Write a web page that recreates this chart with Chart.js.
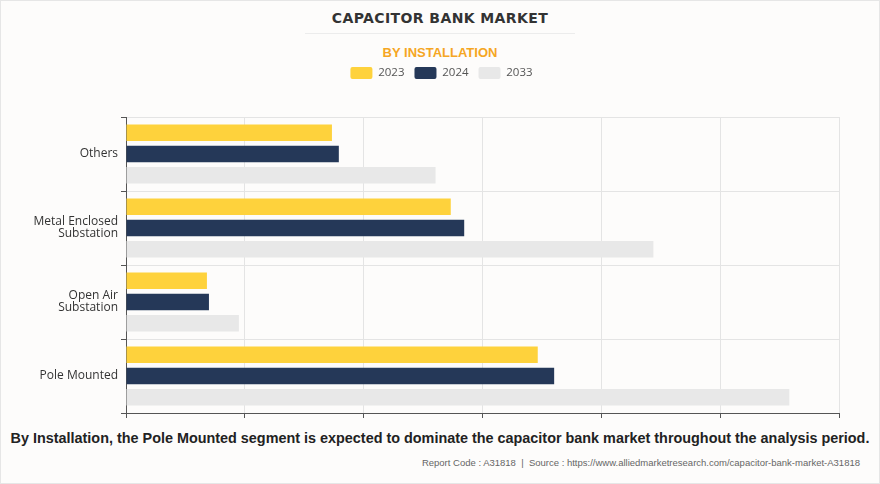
<!DOCTYPE html>
<html>
<head>
<meta charset="utf-8">
<script src="https://cdn.jsdelivr.net/npm/chart.js@4"></script>
<style>
  html, body { margin: 0; padding: 0; }
  body { width: 880px; height: 484px; background: #fdfcfb; position: relative; overflow: hidden; font-family: "Liberation Sans", Arial, sans-serif; }
  #frame { position: absolute; left: 0; top: 0; width: 878px; height: 482px; border: 1px solid #e6e6e6; }
  #title { position: absolute; top: 10px; left: 0; width: 880px; text-align: center; font: bold 14px "DejaVu Sans", sans-serif; letter-spacing: 0.4px; color: #333; }
  #rule { position: absolute; top: 33px; left: 305px; width: 270px; height: 1px; background: #ececec; }
  #sub { position: absolute; top: 45px; left: 0; width: 880px; text-align: center; font: bold 13px "Liberation Sans", Arial, sans-serif; color: #f5a623; }
  #wrap { position: absolute; left: 0; top: 57px; width: 880px; height: 365px; }
  #note { position: absolute; top: 430px; left: 0; width: 880px; text-align: center; font: bold 14.4px "Liberation Sans Narrow", "Liberation Sans", Arial, sans-serif; color: #222; }
  #src { position: absolute; top: 457px; right: 20px; font: 9.5px "Liberation Sans Narrow", "Liberation Sans", Arial, sans-serif; color: #666; }
</style>
</head>
<body>
<div id="frame"></div>
<div id="title">CAPACITOR BANK MARKET</div>
<div id="rule"></div>
<div id="sub">BY INSTALLATION</div>
<div id="wrap"><canvas id="c"></canvas></div>
<div id="note">By Installation, the Pole Mounted segment is expected to dominate the capacitor bank market throughout the analysis period.</div>
<div id="src">Report Code : A31818 &nbsp;|&nbsp; Source : https://www.alliedmarketresearch.com/capacitor-bank-market-A31818</div>
<script>
const categories = ["Others", ["Metal Enclosed", "Substation"], ["Open Air", "Substation"], "Pole Mounted"];
const years = ["2023", "2024", "2033"];
const values2023 = [173.3, 273.3, 68.1, 346.5];
const values2024 = [179.1, 284.6, 69.8, 360.3];
const values2033 = [260.5, 443.8, 95.0, 558.2];
const colors = ["#fed23c", "#253858", "#e8e8e8"];

const series = [values2023, values2024, values2033];

// push the plot area down below the legend, and centre the legend on the page
const legendGap = {
  id: "legendGap",
  beforeInit(chart) {
    const fit = chart.legend.fit;
    chart.legend.fit = function () {
      fit.bind(chart.legend)();
      this.height += 28;
    };
  },
  afterLayout(chart) {
    chart.legend.left += 22;
    chart.legend.right += 22;
  }
};

new Chart(document.getElementById("c"), {
  type: "bar",
  data: {
    labels: categories,
    datasets: series.map((vals, i) => ({
      label: years[i],
      data: vals,
      backgroundColor: colors[i],
      borderWidth: 0,
      categoryPercentage: 0.86,
      barPercentage: 0.77
    }))
  },
  plugins: [legendGap],
  options: {
    indexAxis: "y",
    responsive: true,
    maintainAspectRatio: false,
    animation: false,
    layout: { padding: { left: 0, right: 41, top: 0, bottom: 0 } },
    plugins: {
      legend: {
        position: "top",
        labels: {
          boxWidth: 22, boxHeight: 12, useBorderRadius: true, borderRadius: 2,
          color: "#555", font: { size: 11.5, family: "'Open Sans', 'Liberation Sans', sans-serif" },
          padding: 10
        }
      },
      tooltip: { enabled: false }
    },
    scales: {
      x: {
        min: 0, max: 600,
        ticks: { display: false, stepSize: 100 },
        grid: { color: "#e4e4e4", tickColor: "#555", tickLength: 5 },
        border: { color: "#555" }
      },
      y: {
        afterFit(scale) { scale.width = 126; },
        ticks: { color: "#333", font: { size: 12, lineHeight: 1.0, family: "'Open Sans', 'Liberation Sans', sans-serif" }, padding: 3 },
        grid: { color: "#e4e4e4", tickColor: "#555", tickLength: 5 },
        border: { color: "#555" }
      }
    }
  }
});
</script>
</body>
</html>
